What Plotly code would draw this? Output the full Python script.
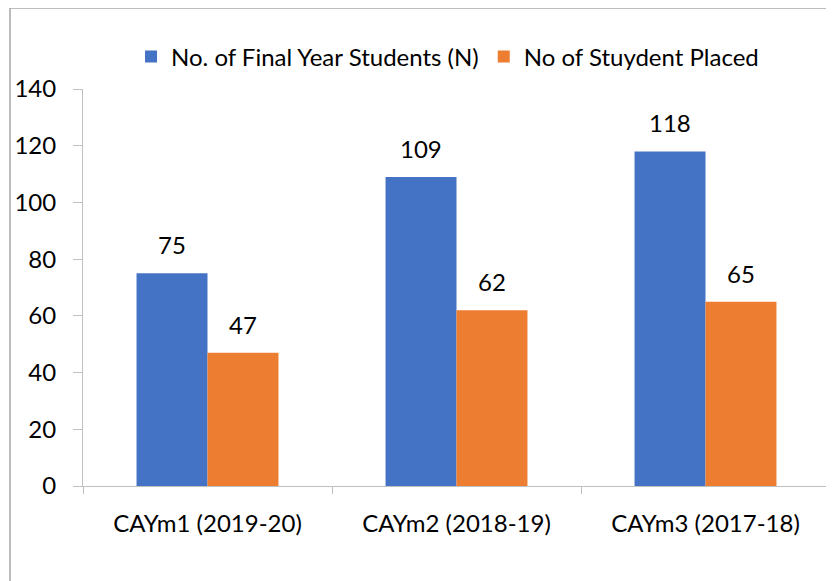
import plotly.graph_objects as go

categories = ["CAYm1 (2019-20)", "CAYm2 (2018-19)", "CAYm3 (2017-18)"]
final_year = [75, 109, 118]
placed = [47, 62, 65]
series_names = ["No. of Final Year Students (N)", "No of Stuydent Placed"]
y_ticks = [0, 20, 40, 60, 80, 100, 120, 140]

BLUE = "#4472C4"
ORANGE = "#ED7D31"
FONT = "Lato"
FS = 24

fig = go.Figure()
fig.add_trace(go.Bar(x=categories, y=final_year, name=series_names[0],
                     marker=dict(color=BLUE, line=dict(width=0))))
fig.add_trace(go.Bar(x=categories, y=placed, name=series_names[1],
                     marker=dict(color=ORANGE, line=dict(width=0))))

# value labels above bars
for vals, shift in ((final_year, -35.5), (placed, 35.5)):
    for c, v in zip(categories, vals):
        fig.add_annotation(x=c, y=v, text=str(v), showarrow=False,
                           xshift=shift, yanchor="bottom", yshift=12,
                           font=dict(family=FONT, size=FS, color="#000000"))

# chart frame (cropped)
fig.add_shape(type="path", xref="paper", yref="paper",
              path="M -0.0977,-0.3 L -0.0977,1.204 L 1.03,1.204",
              line=dict(color="#A6A6A6", width=1.5))

fig.update_layout(
    width=834, height=581,
    margin=dict(l=75, r=12, t=81, b=103, autoexpand=False),
    paper_bgcolor="white", plot_bgcolor="white",
    barmode="group", bargap=0.43, bargroupgap=0,
    font=dict(family=FONT, size=FS, color="#000000"),
    showlegend=True,
    legend=dict(orientation="h", x=0.488, xanchor="center", y=1.081, yanchor="middle",
                font=dict(family=FONT, size=FS, color="#000000"),
                itemwidth=30, itemsizing="constant", traceorder="normal"),
    xaxis=dict(type="category", showline=True, linecolor="#BFBFBF", linewidth=1,
               ticks="outside", tickson="boundaries", ticklen=7, tickcolor="#BFBFBF",
               showgrid=False, tickfont=dict(family=FONT, size=FS),
               ticklabelstandoff=16, automargin=False),
    yaxis=dict(range=[0, 140], tickvals=y_ticks, showline=True, linecolor="#BFBFBF",
               linewidth=1, ticks="outside", ticklen=9, tickcolor="#BFBFBF",
               showgrid=False, zeroline=False, tickfont=dict(family=FONT, size=FS),
               ticklabelstandoff=12, automargin=False),
)

fig.write_html("out.html")
